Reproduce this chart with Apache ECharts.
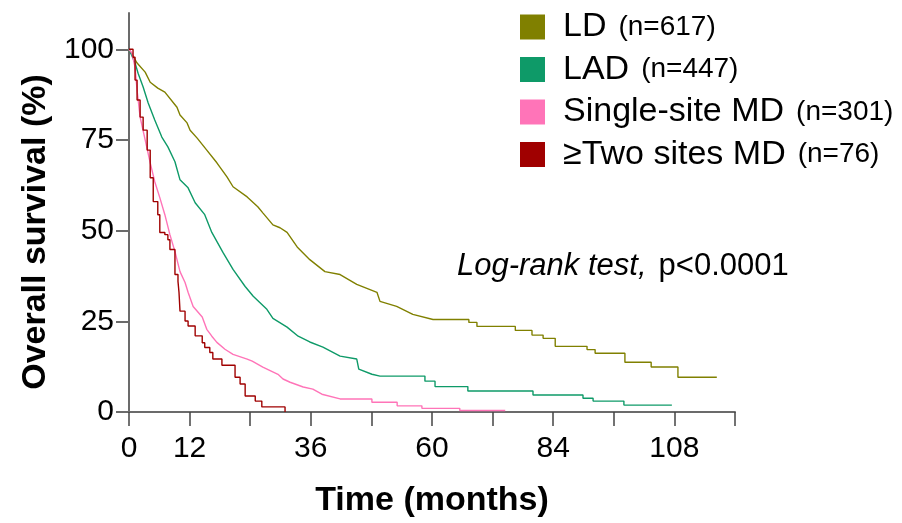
<!DOCTYPE html>
<html>
<head>
<meta charset="utf-8">
<script src="https://cdn.jsdelivr.net/npm/echarts@6/dist/echarts.min.js"></script>
<style>
  html, body { margin: 0; padding: 0; background: #fff; }
  #main { width: 902px; height: 523px; }
</style>
</head>
<body>
<div id="main"></div>
<script>
// groups and sample sizes
var groupNames = ['LD', 'LAD', 'Single-site MD', '\u2265Two sites MD'];
var groupN = ['(n=617)', '(n=447)', '(n=301)', '(n=76)'];
var groupColors = ['#808000', '#0E9A68', '#FF74B8', '#A00000'];

// axis ticks
var xTicks = [0, 12, 24, 36, 48, 60, 72, 84, 96, 108, 120];
var xLabels = [0, 12, 36, 60, 84, 108];
var yTicks = [0, 25, 50, 75, 100];

// Kaplan-Meier curves (month, survival %)
// dense parts follow the curve, flat parts list both corners of each step
var ldTime = [0, 0.2, 1.6, 3.2, 4.2, 5.7, 7.1, 9.5, 10.1, 11.5, 12.1, 13.5, 15.4, 17.4, 19.4, 20.6, 23.4, 25.5, 26.5, 28.5, 29.9, 31.3, 33.3, 35.8, 38.8, 41.8, 45.1, 49.1, 49.7, 53, 56.2, 60.2, 67.3, 67.3, 68.9, 68.9, 76.5, 76.5, 79.8, 79.8, 82, 82, 84.4, 84.4, 90.7, 90.7, 92.3, 92.3, 98.2, 98.2, 103.4, 103.4, 108.7, 108.7, 116.4];
var ldSurv = [100, 99.7, 96.2, 93.7, 90.9, 89.3, 88.2, 84, 81.9, 79.7, 77.7, 75.5, 72.2, 68.7, 64.8, 62.1, 59.3, 56.6, 54.9, 51.6, 50.8, 49.5, 45.5, 42, 38.7, 37.9, 35.2, 33, 30.5, 29.1, 26.9, 25.5, 25.5, 24.7, 24.7, 23.6, 23.6, 22.5, 22.5, 21.2, 21.2, 20.3, 20.3, 18.1, 18.1, 17.2, 17.2, 16.2, 16.2, 13.7, 13.7, 12.4, 12.4, 9.6, 9.6];

var ladTime = [0, 1.2, 1.8, 2.8, 3.8, 5.1, 6.5, 7.7, 9.1, 10.1, 11.7, 13.1, 15, 16.4, 18.6, 20.6, 23, 24.6, 27.3, 28.5, 31.3, 33.5, 35.8, 38.4, 41.8, 45.1, 45.5, 48.1, 49.7, 58.6, 58.6, 60.6, 60.6, 67.1, 67.1, 80, 80, 89.9, 89.9, 91.9, 91.9, 98, 98, 107.5];
var ladSurv = [100, 96.2, 93.4, 89.6, 85.2, 80.5, 75.8, 73.1, 69, 64, 61.8, 57.7, 54.4, 49.5, 44, 39.3, 34.6, 31.9, 28.3, 25.8, 23.4, 20.9, 19.3, 17.9, 15.4, 14.6, 11.8, 10.4, 9.9, 9.9, 8.5, 8.5, 7.0, 7.0, 5.8, 5.8, 4.7, 4.7, 3.8, 3.8, 3.0, 3.0, 1.9, 1.9];

var smdTime = [0, 0.6, 1.2, 1.6, 2.2, 3.2, 4.2, 5.1, 6.1, 7.1, 8.1, 9.1, 10.1, 11.1, 11.7, 12.7, 14.5, 15.4, 16.4, 17.4, 19, 20.6, 23.4, 24.4, 26.5, 29.5, 30.5, 31.9, 34.5, 36.4, 38.2, 41.8, 48.1, 48.1, 53.1, 53.1, 58, 58, 65.5, 65.5, 74.5];
var smdSurv = [100, 98.9, 95, 88.7, 81.3, 75, 68.7, 63.5, 59.1, 54.4, 48.9, 44.2, 38.7, 35.7, 33, 29.1, 26.2, 22.8, 20.9, 19.2, 17.3, 15.9, 14.6, 14, 12.4, 10.4, 9.1, 8.2, 6.9, 6.3, 4.9, 3.6, 3.6, 2.7, 2.7, 1.7, 1.7, 1.0, 1.0, 0.4, 0.4];

// this group drops in clear single steps: value after the drop at each time
var tmdTime = [0, 0.8, 1.2, 1.6, 2.2, 2.8, 3.6, 4.2, 4.8, 5.7, 6.1, 7.1, 7.7, 8.1, 9.1, 9.7, 9.9, 10.1, 11.1, 11.7, 13.1, 14.5, 15, 16, 16.6, 18.4, 21, 22, 23, 25, 26.3, 30.9];
var tmdSurv = [100, 97.8, 91.5, 86, 81.3, 77.7, 72.2, 64.6, 58, 54.4, 49.5, 48.9, 47.5, 44.8, 37.9, 36, 33, 27.8, 25.1, 23.7, 21, 19.1, 17.8, 16.4, 14.6, 12.9, 9.6, 7.7, 4.4, 3.0, 1.4, 0];

function zip(t, s) {
    var out = [];
    for (var i = 0; i < t.length; i++) { out.push([t[i], s[i]]); }
    return out;
}

var curves = [zip(ldTime, ldSurv), zip(ladTime, ladSurv), zip(smdTime, smdSurv), zip(tmdTime, tmdSurv)];
var steps = [false, false, false, 'end'];

var seriesList = [];
for (var i = 0; i < groupNames.length; i++) {
    seriesList.push({
        name: groupNames[i],
        type: 'line',
        step: steps[i],
        showSymbol: false,
        data: curves[i],
        itemStyle: { color: groupColors[i] },
        lineStyle: { color: groupColors[i], width: 1.4 }
    });
}

var axisGrey = '#6b6b6b';
var font = 'Liberation Sans, Arial, sans-serif';

var myChart = echarts.init(document.getElementById('main'));
var option = {
    animation: false,
    textStyle: { fontFamily: font },
    grid: { left: 129, right: 167, top: 13, bottom: 110, containLabel: false },
    legend: {
        orient: 'vertical',
        left: 515,
        top: 5,
        icon: 'rect',
        itemWidth: 25,
        itemHeight: 25,
        itemGap: 8.5,
        data: groupNames,
        formatter: function (name) {
            var k = groupNames.indexOf(name);
            return '{a|' + name + '}{b|' + groupN[k] + '}';
        },
        textStyle: {
            color: '#000',
            rich: {
                a: { fontSize: 34, lineHeight: 40, fontFamily: font, color: '#000', padding: [0, 0, 0, 13] },
                b: { fontSize: 28, lineHeight: 40, fontFamily: font, color: '#000', padding: [0, 0, 0, 12] }
            }
        }
    },
    xAxis: {
        type: 'value',
        min: 0,
        max: 120,
        interval: 12,
        name: 'Time (months)',
        nameLocation: 'middle',
        nameGap: 72,
        nameTextStyle: { fontSize: 34, fontWeight: 'bold', color: '#000', fontFamily: font },
        axisLine: { show: true, lineStyle: { color: axisGrey, width: 2 } },
        axisTick: { show: true, length: 14, customValues: xTicks, lineStyle: { color: '#444', width: 1.5 } },
        axisLabel: { customValues: xLabels, fontSize: 30, color: '#000', margin: 22, fontFamily: font },
        splitLine: { show: false }
    },
    yAxis: {
        type: 'value',
        min: 0,
        max: 110,
        interval: 25,
        axisLine: { show: true, lineStyle: { color: axisGrey, width: 2 } },
        axisTick: { show: true, length: 13, customValues: yTicks, lineStyle: { color: axisGrey, width: 2 } },
        axisLabel: { customValues: yTicks, fontSize: 30, color: '#000', margin: 15, fontFamily: font },
        splitLine: { show: false }
    },
    graphic: [
        {
            type: 'text',
            x: 36,
            y: 232,
            rotation: Math.PI / 2,
            style: {
                text: 'Overall survival (%)',
                fontSize: 34,
                fontWeight: 'bold',
                fontFamily: font,
                fill: '#000',
                align: 'center',
                verticalAlign: 'middle'
            }
        },
        {
            type: 'text',
            x: 457,
            y: 266,
            style: {
                text: '{i|Log-rank test,}{n|p<0.0001}',
                verticalAlign: 'middle',
                rich: {
                    i: { fontSize: 31, fontStyle: 'italic', fontFamily: font, fill: '#000' },
                    n: { fontSize: 31, fontFamily: font, fill: '#000', padding: [0, 0, 0, 12] }
                }
            }
        }
    ],
    series: seriesList
};
myChart.setOption(option);
window.onresize = function () {
    myChart.resize();
};
</script>
</body>
</html>
